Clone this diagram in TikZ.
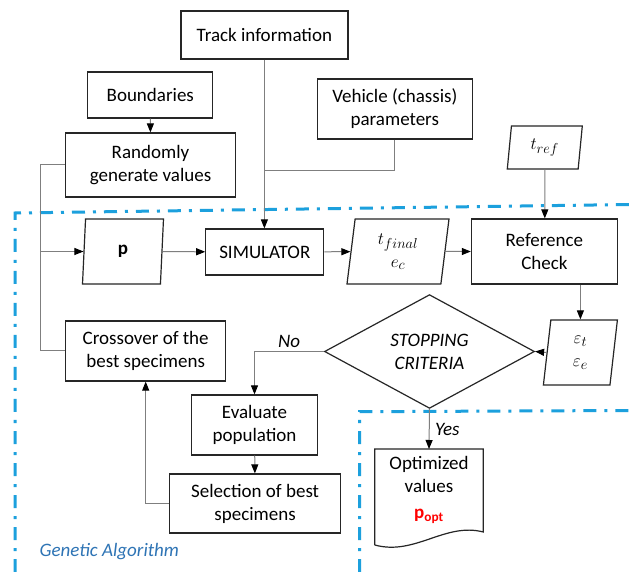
\documentclass[tikz,border=0pt]{standalone}
\usepackage{fontspec}
\setmainfont{Carlito}
\usetikzlibrary{shapes.geometric,arrows.meta,positioning}
\definecolor{gaframe}{HTML}{1CA0DD}
\definecolor{galabel}{HTML}{2E74B5}
\definecolor{wire}{HTML}{7F7F7F}
\definecolor{outline}{HTML}{262626}

\begin{document}
\begin{tikzpicture}[x=1pt,y=-1pt,
    font=\fontsize{19}{23}\selectfont,
    box/.style={draw=outline,line width=1.2pt,align=center,inner sep=2pt},
    io/.style={box,trapezium,trapezium left angle=78,trapezium right angle=102,
               trapezium stretches body,inner sep=1pt},
    decision/.style={box,diamond,inner sep=0pt,minimum width=210pt,minimum height=103pt},
    line/.style={draw=wire,line width=1pt},
    arr/.style={line,-{Triangle[length=9pt,width=7pt,color=black,fill=black]}},
    frame/.style={draw=gaframe,line width=3pt,dash pattern=on 13pt off 8pt on 3pt off 8pt}
  ]
    \fill[white] (0,0) rectangle (630,572);
    \useasboundingbox (0,0) rectangle (630,572);

    % genetic algorithm region and output region
    \draw[frame] (15,572) -- (15,213) -- (630,204.5);
    \draw[frame] (359.6,572) -- (359.6,411.7) -- (630,410.5);
    \node[anchor=west,text=galabel,font=\fontsize{19}{23}\selectfont\itshape] (galbl) at (36,552) {Genetic Algorithm};

    % inputs
    \node[box,minimum width=167pt,minimum height=48pt] (track) at (264.4,35) {Track information};
    \node[box,minimum width=125pt,minimum height=46pt] (bound) at (150.3,95) {Boundaries};
    \node[box,minimum width=170pt,minimum height=64pt] (rand) at (150.5,165) {Randomly\\generate values};
    \node[box,minimum width=155pt,minimum height=60pt] (vehicle) at (394.8,109) {Vehicle (chassis)\\parameters};
    \node[io,minimum width=75pt,minimum height=43pt] (tref) at (544.8,147.5) {$t_{ref}$};

    % main loop
    \node[io,minimum width=81pt,minimum height=65pt] (p) at (123,251.5) {\textbf{p}};
    \node[box,minimum width=118pt,minimum height=46pt] (sim) at (264.8,252) {SIMULATOR};
    \node[io,minimum width=102pt,minimum height=65pt] (tfin) at (398,251.5) {$t_{final}$\\$e_c$};
    \node[box,minimum width=146pt,minimum height=65pt] (refc) at (544.4,251.5) {Reference\\Check};
    \node[io,minimum width=74pt,minimum height=65pt] (eps) at (580.4,352.5) {$\varepsilon_t$\\$\varepsilon_e$};
    \node[decision] (stop) at (429.5,351.5) {\itshape STOPPING\\\itshape CRITERIA};
    \node[box,minimum width=160pt,minimum height=60pt] (cross) at (145.7,351) {Crossover of the\\best specimens};
    \node[box,minimum width=126pt,minimum height=60pt] (eval) at (254.5,425) {Evaluate\\population};
    \node[box,minimum width=171pt,minimum height=59pt] (sel) at (255.1,503.5) {Selection of best\\specimens};

    % output document
    \node[align=center,minimum width=108pt,minimum height=82pt,inner sep=0pt] (opt) at (429,490)
      {Optimized\\values\\[3pt]\textcolor{red}{\textbf{p}\textsubscript{\textbf{opt}}}};
    \draw[draw=outline,line width=1.2pt] (374.8,545) -- (374.8,449) -- (483.3,449) -- (483.3,532)
      .. controls (445,522) and (415,556) .. (374.8,545);
    \coordinate (optin) at (429,449);

    \coordinate (vj) at (265.2,171);
    \coordinate (lt) at (40.2,165);
    \coordinate (lb) at (40.2,351);

    \draw[arr] (bound) -- (rand);
    \draw[arr] (track.south) -- (track.south |- sim.north);
    \draw[line] (vehicle.south) |- (vj);
    \draw[line] (rand.west) -- (lt) -- (lb) -- (cross.west);
    \draw[arr] (lt |- p.west) -- (p.west);
    \draw[arr] (p) -- (sim);
    \draw[arr] (sim) -- (tfin);
    \draw[arr] (tfin) -- (refc);
    \draw[arr] (tref) -- (tref |- refc.north);
    \draw[arr] (refc.south -| eps.north) -- (eps.north);
    \draw[arr] (eps.west) -- (stop.east);
    \draw[arr] (stop.west) -| node[pos=0.25,above,font=\fontsize{19}{23}\selectfont\itshape]{No} (eval.north);
    \draw[arr] (eval) -- (sel);
    \draw[arr] (sel.west) -| (cross.south);
    \draw[arr] (stop.south) -- node[right,xshift=2pt,font=\fontsize{19}{23}\selectfont\itshape]{Yes} (optin);
\end{tikzpicture}
\end{document}
